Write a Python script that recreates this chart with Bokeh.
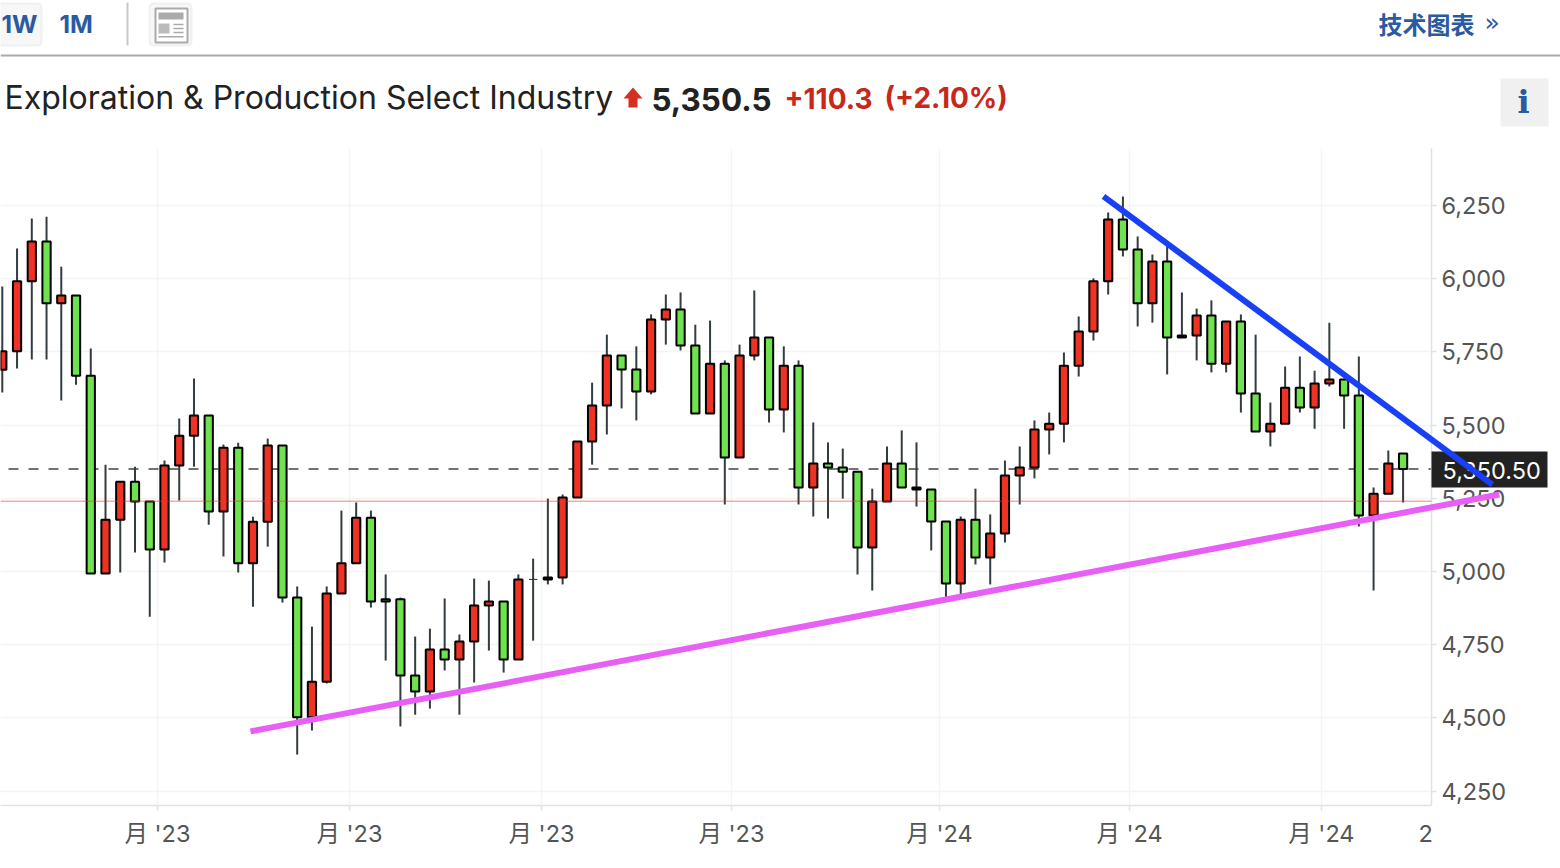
from bokeh.plotting import figure, ColumnDataSource
from bokeh.layouts import column
from bokeh.models import FixedTicker, NumeralTickFormatter, Span, BoxAnnotation, Range1d
from bokeh.core.properties import value
from bokeh.embed import file_html
from bokeh.resources import INLINE

opens = [5689,5752,5991,6127,5916,5943,5669,4993,5177,5307,5239,5075,5362,5464,5533,5205,5423,5028,5170,5430,
         4911,4502,4624,4925,5028,5184,4905,4905,4645,4590,4734,4700,4761,4884,4898,4700,4973,4973,4980,5253,
         5444,5567,5738,5690,5615,5861,5895,5772,5540,5710,5389,5738,5799,5553,5703,5287,5369,5355,5341,5082,
         5239,5369,5280,5280,5171,4959,5177,5048,5130,5328,5355,5485,5505,5703,5820,5991,6202,6100,5916,6059,
         5799,5806,5874,5710,5854,5608,5478,5505,5628,5560,5642,5656,5601,5191,5266,5403]
closes = [5752,5991,6127,5916,5943,5669,4993,5177,5307,5239,5075,5362,5464,5533,5205,5423,5028,5170,5430,4911,
          4502,4624,4925,5028,5184,4898,4898,4645,4590,4734,4700,4761,4884,4898,4700,4973,4973,4980,5253,5444,
          5567,5738,5690,5615,5861,5895,5772,5540,5710,5389,5738,5799,5553,5703,5287,5369,5355,5341,5082,5239,
          5369,5287,5287,5171,4959,5177,5048,5130,5328,5355,5485,5505,5703,5820,5991,6202,6100,5916,6059,5799,
          5806,5874,5710,5854,5608,5478,5505,5628,5560,5642,5656,5601,5191,5266,5369,5350.5]
highs = [5973,6103,6206,6212,6041,5943,5762,5365,5307,5358,5239,5379,5523,5659,5533,5434,5440,5187,5454,5430,
         4949,4812,4949,5208,5236,5208,4990,4911,4778,4805,4908,4785,4976,4969,4898,4990,5044,5249,5263,5444,
         5645,5809,5738,5769,5878,5946,5953,5843,5857,5721,5775,5960,5799,5769,5721,5509,5441,5420,5341,5283,
         5427,5482,5441,5280,5171,5188,5283,5195,5379,5427,5516,5543,5748,5871,6001,6226,6281,6144,6083,6113,
         5953,5898,5926,5854,5878,5809,5577,5700,5734,5686,5850,5656,5734,5287,5413,5403]
lows = [5611,5693,5724,5724,5584,5638,4993,4993,4997,5065,4846,5031,5243,5358,5160,5051,4997,4880,5085,4894,
        4375,4457,4618,4925,5028,4877,4696,4471,4511,4532,4662,4511,4621,4730,4655,4700,4764,4956,4956,5253,
        5365,5468,5557,5516,5605,5775,5755,5540,5540,5229,5389,5721,5509,5475,5229,5188,5181,5249,4990,4935,
        5239,5287,5222,5072,4911,4921,5024,4956,5099,5229,5318,5400,5441,5666,5789,5946,6076,5837,5850,5673,
        5799,5721,5680,5680,5543,5478,5427,5505,5543,5488,5632,5488,5154,4935,5266,5236]

y_ticks = [4250, 4500, 4750, 5000, 5250, 5500, 5750, 6000, 6250]
x_tick_pos = [10.52, 23.54, 36.57, 49.45, 63.56, 76.45, 89.46]
x_tick_labels = ["月 '23", "月 '23", "月 '23", "月 '23", "月 '24", "月 '24", "月 '24"]

title_text = "Exploration & Production Select Industry"
last_price = 5350.5
prev_close = 5240.2
change_text = "+110.3"
pct_text = "(+2.10%)"
pink_x, pink_y = [16.83, 101.53], [4454, 5263]
blue_x, blue_y = [74.68, 101.06], [6281, 5297]

UP, DOWN = "#ee3224", "#6fe24f"
BLUE = "#2a5a9f"
FONT = "Inter"
CJK = "Noto Sans CJK SC"


def X(px):
    return (px - 1.8) / 14.745


def Y(py):
    return 6250 - (py - 205) * 3.415


src = ColumnDataSource(dict(
    x=list(range(len(opens))), high=highs, low=lows,
    top=[max(a, b) for a, b in zip(opens, closes)],
    bottom=[min(a, b) for a, b in zip(opens, closes)],
    fill=[UP if c >= o else DOWN for o, c in zip(opens, closes)],
    lw=[1 if c == o else 2 for o, c in zip(opens, closes)],
    edge=["#333c40" if c == o else "#000000" for o, c in zip(opens, closes)],
))

p = figure(width=1560, height=868, output_backend="svg", toolbar_location=None,
           x_range=Range1d(X(0), X(1431)), y_range=Range1d(Y(805), Y(148)),
           y_axis_location="right", x_axis_location="below",
           frame_width=1431, frame_height=657,
           min_border_left=0, min_border_right=129, min_border_top=148, min_border_bottom=63,
           background_fill_color="#ffffff", border_fill_color="#ffffff", outline_line_color=None)

for ax in (p.xaxis[0], p.yaxis[0]):
    ax.axis_line_color = "#dfe2e8"
    ax.axis_line_width = 1.5
    ax.major_tick_line_color = "#dfe2e8"
    ax.major_tick_line_width = 1.5
    ax.major_tick_in = 0
    ax.major_tick_out = 5
    ax.minor_tick_line_color = None
    ax.major_label_text_font = f"{FONT}, {CJK}"
    ax.major_label_text_font_size = "23.5px"
    ax.major_label_text_color = "#555555"
p.yaxis[0].ticker = FixedTicker(ticks=y_ticks)
p.yaxis[0].formatter = NumeralTickFormatter(format="0,0")
p.yaxis[0].major_label_standoff = 5
p.xaxis[0].ticker = FixedTicker(ticks=x_tick_pos)
p.xaxis[0].major_label_overrides = dict(zip(x_tick_pos, x_tick_labels))
p.xaxis[0].major_label_standoff = 8
p.xgrid[0].ticker = FixedTicker(ticks=x_tick_pos)
p.ygrid[0].ticker = FixedTicker(ticks=y_ticks)
for g in (p.xgrid[0], p.ygrid[0]):
    g.grid_line_color = "#f4f4f5"
    g.grid_line_width = 1.5

p.add_layout(Span(location=last_price, dimension="width", line_color="#444444", line_width=1.5,
                  line_dash="10 10", line_dash_offset=12, level="underlay"))
p.segment(x0="x", x1="x", y0="low", y1="high", source=src, line_color="#333c40", line_width=2)
p.vbar(x="x", width=0.56, top="top", bottom="bottom", source=src, fill_color="fill",
       line_color="edge", line_width="lw")
p.add_layout(Span(location=prev_close, dimension="width", line_color="#ee3224", line_alpha=0.42,
                  line_width=1.5, level="overlay"))

# Transparent sheet over the whole page: same index and price scales, extended to the edges.
o = figure(width=1560, height=868, output_backend="svg", toolbar_location=None,
           x_range=Range1d(X(0), X(1560)), y_range=Range1d(Y(868), Y(0)),
           x_axis_location=None, y_axis_location=None,
           frame_width=1560, frame_height=868,
           min_border_left=0, min_border_right=0, min_border_top=0, min_border_bottom=0,
           background_fill_alpha=0, border_fill_alpha=0, outline_line_color=None,
           styles={"position": "absolute", "left": "0px", "top": "0px"})
o.xgrid.visible = False
o.ygrid.visible = False
o.grid.grid_line_color = None


def box(left, right, top, bottom, fill, line=None, lw=1):
    o.quad(left=[X(left)], right=[X(right)], top=[Y(top)], bottom=[Y(bottom)],
           fill_color=fill, line_color=line, line_width=lw)


def rbox(left, right, top, bottom, fill, line, lw, radius):
    o.add_layout(BoxAnnotation(left=X(left), right=X(right), top=Y(top), bottom=Y(bottom),
                               fill_color=fill, fill_alpha=1, line_color=line, line_width=lw,
                               border_radius=radius, level="underlay", editable=False))


def text(s, x, y, size, color, style="normal", font=FONT, align="left"):
    o.text(x=[X(x)], y=[Y(y)], text=[s], text_font=value(font), text_font_size=value(size),
           text_color=color, text_font_style=style, text_baseline="middle", text_align=align)


# toolbar strip
rbox(-4, 41, 3, 45, "#f7f7f7", "#d8d8d8", 2, 4)
text("1W", 1, 23.5, "24.5px", BLUE, "bold")
text("1M", 59, 23.5, "24.5px", BLUE, "bold")
box(126, 128, 2, 45, "#c8c8c8")
rbox(149, 191, 3, 45, "#f7f7f7", "#d8d8d8", 2, 4)
box(155, 187, 8, 42, "#ffffff", "#aaaaaa", 2)
box(158, 183, 12, 19, "#aaaaaa")
box(158, 169, 23, 33, "#bbbbbb")
for ly in (24, 28, 32):
    box(173, 183, ly - 0.75, ly + 0.75, "#aaaaaa")
box(158, 183, 35.5, 37, "#aaaaaa")
text("技术图表", 1378, 22.5, "24px", BLUE, "bold", CJK)
text("»", 1484, 22, "25px", BLUE, "normal", "DejaVu Sans")
box(0, 1560, 54, 56, "#aaaaaa")

# quote line
text(title_text, 4, 97, "32px", "#222222")
o.patch(x=[X(v) for v in (632.5, 642, 637, 637, 628, 628, 623)],
        y=[Y(v) for v in (87, 98, 98, 107, 107, 98, 98)], fill_color="#d3301f", line_color=None)
text(f"{last_price:,.1f}", 651, 98.5, "31.4px", "#222222", "bold")
text(change_text, 784, 97.5, "28px", "#c8281a", "bold")
text(pct_text, 884, 97.5, "28px", "#c8281a", "bold")
box(1500, 1548, 78, 126, "#f0f0f0")
text("i", 1523, 101.5, "32px", BLUE, "bold", "DejaVu Serif", "center")

# clipped next tick label and the last-price badge
text("2", 1418, 832.5, "23.5px", "#555555")
box(1431, 1547, 451, 487, "#222222")
text(f"{last_price:,.2f}", 1442, 469.5, "23.5px", "#ffffff")

# hand-drawn trend lines
o.line(pink_x, pink_y, line_color="#e85ff5", line_width=6)
o.line(blue_x, blue_y, line_color="#1a40f5", line_width=6)

open("out.html", "w").write(file_html(column(p, o), INLINE))
